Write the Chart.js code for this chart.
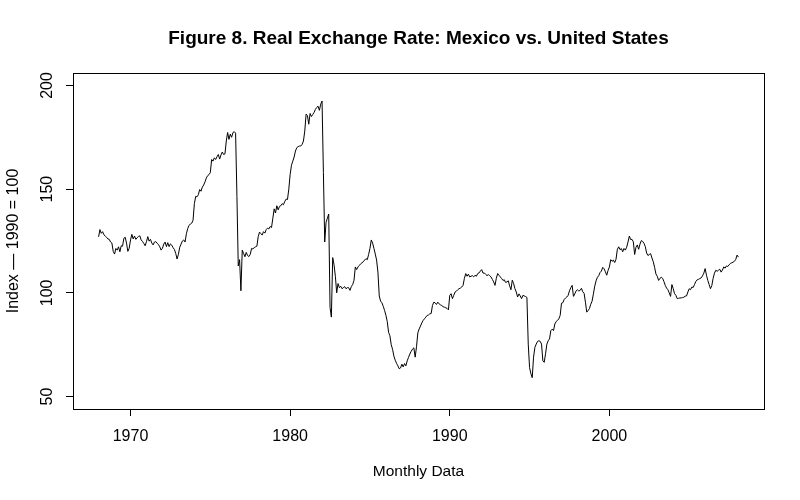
<!DOCTYPE html>
<html>
<head>
<meta charset="utf-8">
<script src="https://cdn.jsdelivr.net/npm/chart.js@4.4.1/dist/chart.umd.min.js"></script>
<style>
  html, body { margin: 0; padding: 0; background: #fff; }
  #wrap { width: 800px; height: 500px; }
</style>
</head>
<body>
<div id="wrap"><canvas id="grafico" width="800" height="500"></canvas></div>
<script>
// DATA (monthly index, Jan 1968 onward)
const startYear = 1968;
const rer = [
  127, 130.5, 128.7, 129.5, 128, 127.4, 126.8, 126, 125.8, 124.5, 124, 120,          // 1968
  118.7, 121.4, 120.6, 122.2, 119.8, 122.7, 122.5, 126.3, 126.8, 124, 120, 121.5,    // 1969
  125.5, 128.2, 126, 127.4, 125.8, 126.6, 127.2, 127.5, 125.5, 124.8, 123.8, 122.7,  // 1970
  124.7, 127.1, 124.9, 125.8, 124, 123.1, 124.5, 124.7, 123.9, 123.3, 122.2, 120.6,  // 1971
  121.5, 123.5, 124.5, 122.3, 124.2, 122.3, 123.6, 123, 121.8, 120.9, 119, 116.3,    // 1972
  118.5, 122, 123.5, 125, 125.5, 124.5, 128.5, 131, 132.5, 133.2, 133.6, 135,        // 1973
  143, 146.5, 146.3, 147.3, 149.8, 149, 151, 152, 153.5, 155.4, 156.5, 157,          // 1974
  158, 164.3, 163.5, 165.1, 164.3, 165.6, 166.7, 164.5, 166.5, 167.9, 166.7, 167,    // 1975
  173.2, 177.3, 174, 176.5, 175, 177.3, 177.7, 177, 146.5, 113, 116, 101,            // 1976
  120.6, 119, 117.4, 119.5, 118, 117.5, 118.5, 121.4, 121.2, 121.8, 122.2, 122.5,    // 1977
  127.1, 129.3, 128.5, 127.9, 129.5, 128.8, 130.5, 131.2, 130.8, 132, 131.5, 136,    // 1978
  140.5, 138.5, 142, 140, 141.7, 142, 143, 142.5, 144.1, 145.2, 145, 150,            // 1979
  157, 161.5, 163.5, 165.5, 168.4, 170, 170.5, 170.8, 170.8, 171.6, 173.2, 178,      // 1980
  186.2, 185.5, 181.3, 186.5, 185, 186, 187, 188.5, 189.4, 190, 188, 191,            // 1981
  192.5, 158, 124.5, 134, 136, 138, 93, 88.3, 117, 113.5, 108, 100,                  // 1982
  104.5, 102.5, 103.2, 102, 102.5, 103, 102, 102.5, 102.5, 101.2, 103, 104,          // 1983
  106, 112.5, 111.2, 112.5, 113.2, 114, 114.5, 115, 115.8, 116.5, 116, 118.5,        // 1984
  121.4, 125.5, 124, 121.4, 118.7, 115.8, 110, 98.5, 96, 95.2, 93.5, 91.5,           // 1985
  89.2, 86.2, 81, 79.3, 75, 72.8, 69.5, 67.5, 66, 64.8, 63.4, 63.8,                  // 1986
  65.6, 64.3, 65.9, 64.8, 67.2, 68.9, 70.5, 71.8, 72.9, 73.5, 69, 74,                // 1987
  80.7, 82.6, 84, 85.5, 86.7, 87.5, 88.3, 89.1, 89.3, 89.9, 90, 93.9,                // 1988
  95.5, 95.2, 94.4, 95.5, 94.7, 94.2, 93.9, 93.3, 93.1, 92.8, 92.5, 91.8,            // 1989
  98.8, 99.6, 97.2, 98.8, 100.4, 100.8, 101.5, 102, 102.3, 102.8, 103.6, 107,        // 1990
  109.3, 108, 109, 107.7, 108, 108.3, 107.7, 108.5, 108, 109.3, 109.6, 110.5,        // 1991
  111.2, 109.5, 109.6, 108.9, 108.3, 108.8, 108.3, 107.7, 106.5, 105.3, 103.6, 107,  // 1992
  109.3, 108.5, 107.7, 106.9, 106, 106.3, 105, 105.3, 105.8, 103.4, 101.5, 106.1,    // 1993
  104.5, 102, 100.4, 98, 99.5, 98.5, 97.2, 98.8, 98.5, 98.2, 97.8, 75.3,             // 1994
  64, 61, 59.1, 69, 73.7, 75.3, 76.6, 76.9, 76.6, 75.3, 67.2, 66.5,                  // 1995
  70.6, 75.3, 76.9, 77.8, 81.8, 82.5, 81.8, 85, 86.2, 86.7, 87.5, 89.1,              // 1996
  95, 95.2, 96.8, 97.5, 98, 98.8, 101, 102.5, 103.6, 98.3, 99.5, 101,                // 1997
  101.5, 100.9, 101.2, 102.2, 100.5, 99.8, 95.5, 90.7, 91.5, 92.4, 94.5, 96,         // 1998
  99.5, 103.2, 105.8, 107.5, 108.3, 109.8, 110.5, 112.3, 111.6, 110.2, 108.5, 110.8, // 1999
  112.5, 116, 115.2, 115.8, 114.6, 116.2, 121, 122.2, 120.8, 121.4, 119.8, 121.4,    // 2000
  120.6, 122, 124.5, 127.4, 125.7, 125.8, 124.6, 118.5, 122, 123.1, 121, 123.5,      // 2001
  125.2, 124.8, 123.9, 122.3, 119.2, 118, 118.5, 118.9, 116.8, 115, 112.3, 109.1,    // 2002
  108, 106, 107, 107.5, 107, 105.5, 103.6, 102.3, 101.5, 100, 98.3, 104,             // 2003
  102, 99.6, 98.8, 97.2, 97.4, 97.5, 97.6, 97.7, 97.9, 98.4, 98.5, 100.4,            // 2004
  102, 101.5, 102.8, 102.6, 104, 105.5, 106.3, 106.5, 106.9, 107.2, 108.2, 109.5,    // 2005
  111.7, 108.5, 106, 104, 102, 103.5, 107, 109.5, 110.9, 110.4, 110.9, 111.4,        // 2006
  110, 111, 112.5, 111.9, 113, 112.7, 113.5, 114.2, 114.5, 114.8, 115.2, 116.1,      // 2007
  118.2, 117.2                                                                        // 2008
];
const xTicks = [1970, 1980, 1990, 2000];
const yTicks = [50, 100, 150, 200];

const titulo = "Figure 8. Real Exchange Rate: Mexico vs. United States";
const xLabel = "Monthly Data";
const yLabel = "Index \u2014 1990 = 100";

const FONTE = "'Liberation Sans', Arial, sans-serif";

// time axis like R's ts plot (4% margin each side)
const months = rer.map((_, i) => startYear + i / 12);
const tMin = months[0], tMax = months[months.length - 1];
const tPad = (tMax - tMin) * 0.04;
const yPad = (200 - 50) * 0.04;

// box, title, axis titles and rotated y labels
const extras = {
  id: "extras",
  afterDraw(chart) {
    const { ctx, chartArea: a, scales } = chart;
    ctx.save();
    ctx.strokeStyle = "#000";
    ctx.lineWidth = 1;
    ctx.strokeRect(a.left + 0.5, a.top + 0.5, a.right - a.left, a.bottom - a.top);

    ctx.fillStyle = "#000";
    ctx.textAlign = "center";
    ctx.textBaseline = "middle";
    const cx = (a.left + a.right) / 2;

    ctx.font = "bold 19px " + FONTE;
    ctx.fillText(titulo, cx, 39);

    ctx.font = "15.5px " + FONTE;
    ctx.fillText(xLabel, cx, 472);

    ctx.save();
    ctx.translate(14, (a.top + a.bottom) / 2);
    ctx.rotate(-Math.PI / 2);
    ctx.font = "16px " + FONTE;
    ctx.fillText(yLabel, 0, 0);
    ctx.restore();

    ctx.font = "16px " + FONTE;
    yTicks.forEach(v => {
      const py = scales.y.getPixelForValue(v);
      ctx.save();
      ctx.translate(48, py);
      ctx.rotate(-Math.PI / 2);
      ctx.fillText(String(v), 0, 0);
      ctx.restore();
    });
    ctx.restore();
  }
};

new Chart(document.getElementById("grafico"), {
  type: "line",
  data: {
    datasets: [{
      data: months.map((t, i) => ({ x: t, y: rer[i] })),
      borderColor: "#000",
      borderWidth: 1,
      pointRadius: 0,
      tension: 0,
      fill: false
    }]
  },
  options: {
    responsive: false,
    animation: false,
    layout: { padding: { top: 73, right: 36, left: 0, bottom: 0 } },
    plugins: { legend: { display: false }, title: { display: false }, tooltip: { enabled: false } },
    scales: {
      x: {
        type: "linear",
        min: tMin - tPad,
        max: tMax + tPad,
        afterBuildTicks: s => { s.ticks = xTicks.map(v => ({ value: v })); },
        afterFit: s => { s.height = 91; },
        grid: { drawOnChartArea: false, drawTicks: true, tickLength: 7, color: "#000" },
        border: { display: false },
        ticks: {
          color: "#000",
          font: { family: FONTE, size: 16 },
          padding: 11,
          maxRotation: 0,
          callback: v => String(v)
        }
      },
      y: {
        min: 50 - yPad,
        max: 200 + yPad,
        afterBuildTicks: s => { s.ticks = yTicks.map(v => ({ value: v })); },
        afterFit: s => { s.width = 73; },
        grid: { drawOnChartArea: false, drawTicks: true, tickLength: 7, color: "#000" },
        border: { display: false },
        ticks: { display: false }
      }
    }
  },
  plugins: [extras]
});
</script>
</body>
</html>
